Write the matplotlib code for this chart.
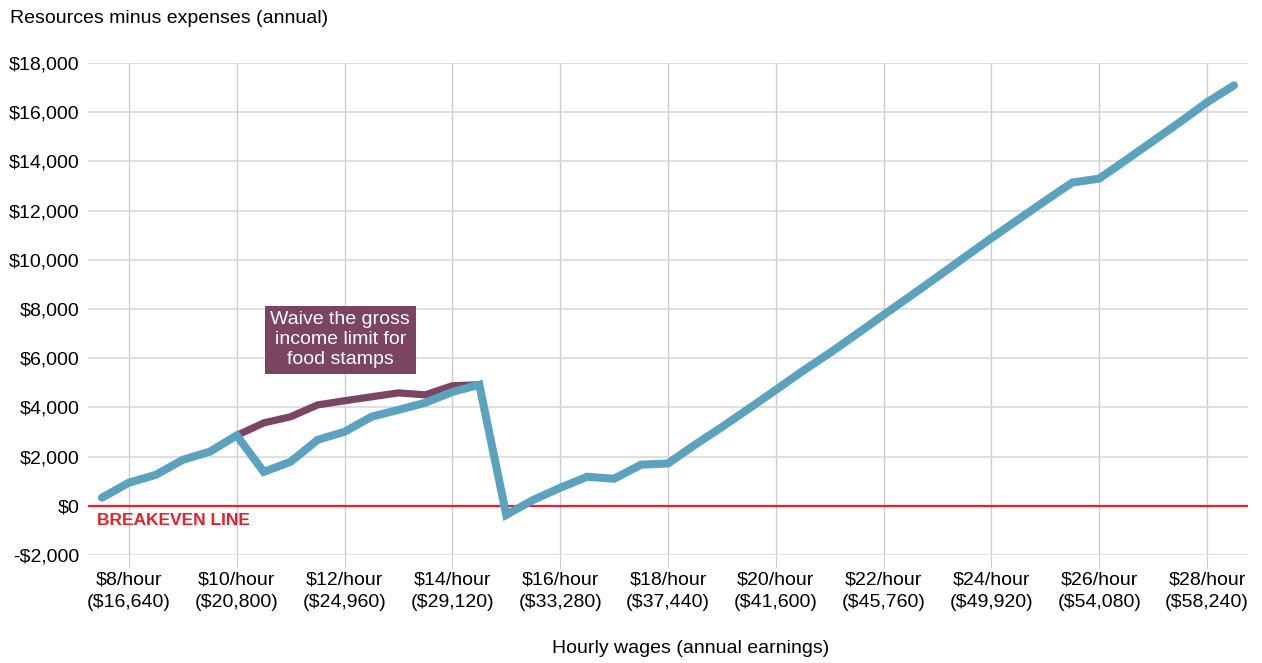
import matplotlib.pyplot as plt
import numpy as np

plt.rcParams['font.family'] = ['Liberation Sans', 'DejaVu Sans']

# hourly wage, $7.50 to $28.50 in half-dollar steps
wages = [7.5, 8, 8.5, 9, 9.5, 10, 10.5, 11, 11.5, 12, 12.5, 13, 13.5, 14, 14.5,
         15, 15.5, 16, 16.5, 17, 17.5, 18, 18.5, 19, 19.5, 20, 20.5, 21, 21.5,
         22, 22.5, 23, 23.5, 24, 24.5, 25, 25.5, 26, 26.5, 27, 27.5, 28, 28.5]
current = [330, 940, 1260, 1870, 2200, 2860, 1380, 1790, 2680, 3010, 3620,
           3900, 4190, 4630, 4920, -370, 240, 730, 1180, 1100, 1670, 1720,
           2480, 3200, 3950, 4710, 5480, 6210, 6980, 7760, 8530, 9310, 10100,
           10880, 11640, 12400, 13140, 13300, 14060, 14830, 15600, 16400, 17090]

# waive gross income limit scenario, $10 to $14.50
waive_wages = [10, 10.5, 11, 11.5, 12, 12.5, 13, 13.5, 14, 14.5]
waive = [2860, 3370, 3620, 4100, 4270, 4430, 4590, 4510, 4880, 4920]

xticks = [8, 10, 12, 14, 16, 18, 20, 22, 24, 26, 28]
xlabels = [f"${w}/hour\n(${w * 2080:,})" for w in xticks]
yticks = list(range(-2000, 18001, 2000))
ylabels = [f"-${-v:,}" if v < 0 else f"${v:,}" for v in yticks]

blue = '#5ba2bf'
purple = '#7a4462'
red = '#e8202a'
FS = 14

fig = plt.figure(figsize=(12.62, 6.63), dpi=100)
ax = fig.add_axes([0.0697, 0.1629, 0.9192, 0.7421])

ax.set_xlim(7.24, 28.76)
ax.set_ylim(-2000, 18000)

ax.set_yticks(yticks)
ax.set_yticklabels(ylabels, fontsize=FS)
ax.set_xticks(xticks)
ax.set_xticklabels(xlabels, fontsize=FS, linespacing=1.42)

ax.grid(axis='y', color='#d9d9d9', lw=1.2)
ax.grid(axis='x', color='#cccccc', lw=1)
ax.set_axisbelow(True)
for s in ax.spines.values():
    s.set_visible(False)
ax.tick_params(axis='y', length=0, pad=6)
ax.tick_params(axis='x', length=9.5, color='#cccccc', pad=2.5)

ax.axhline(0, color=red, lw=1.6, zorder=2)
ax.text(7.41, -280, "BREAKEVEN LINE", color=red, fontsize=12.5,
        fontweight='bold', va='top', ha='left')

ax.plot(waive_wages, waive, color=purple, lw=5.2, solid_joinstyle='miter', zorder=3)
ax.plot(wages, current, color=blue, lw=5.8, solid_capstyle='round',
        solid_joinstyle='miter', zorder=4)

ax.text(11.92, 6750, "Waive the gross\nincome limit for\nfood stamps",
        color='white', fontsize=FS, ha='center', va='center', linespacing=1.25,
        bbox=dict(boxstyle='square,pad=0.28', fc=purple, ec='none'), zorder=5)

fig.text(0.008, 0.972, "Resources minus expenses (annual)", fontsize=FS,
         ha='left', va='center')
fig.text(0.547, 0.022, "Hourly wages (annual earnings)", fontsize=FS,
         ha='center', va='center')

fig.savefig('out.png', dpi=100)
